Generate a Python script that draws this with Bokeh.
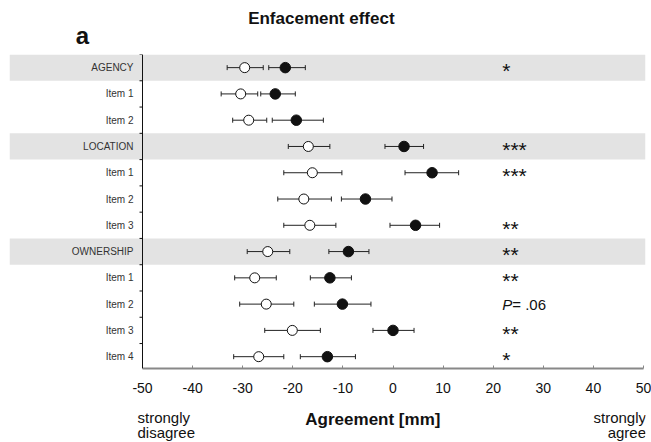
import math
from bokeh.plotting import figure
from bokeh.layouts import column
from bokeh.models import Range1d, Span, LinearAxis, FixedTicker
from bokeh.core.properties import value
from bokeh.embed import file_html
from bokeh.resources import INLINE

# ---------------- data ----------------
rows = ["AGENCY", "Item 1", "Item 2", "LOCATION", "Item 1", "Item 2", "Item 3",
        "OWNERSHIP", "Item 1", "Item 2", "Item 3", "Item 4"]
is_header = [1, 0, 0, 1, 0, 0, 0, 1, 0, 0, 0, 0]

# open circles
open_mean = [-29.6, -30.4, -28.8, -16.9, -16.1, -17.8, -16.6, -25.0, -27.6, -25.3, -20.1, -26.8]
open_lo = [-33.1, -34.3, -32.0, -20.9, -21.8, -23.0, -21.8, -29.1, -31.6, -30.6, -25.6, -31.8]
open_hi = [-25.9, -27.0, -25.2, -12.6, -10.2, -12.3, -11.4, -20.6, -23.3, -19.8, -14.5, -21.8]
# filled circles
filled_mean = [-21.5, -23.5, -19.3, 2.2, 7.8, -5.5, 4.5, -8.9, -12.6, -10.1, 0.0, -13.1]
filled_lo = [-24.8, -26.4, -24.1, -1.6, 2.4, -10.3, -0.6, -12.8, -16.5, -15.7, -4.0, -18.5]
filled_hi = [-17.5, -19.5, -13.9, 6.1, 13.1, -0.2, 9.3, -4.8, -8.3, -4.4, 4.2, -7.5]

sig = ["*", "", "", "***", "***", "", "**", "**", "**", "P = .06", "**", "*"]

x_ticks = [-50, -40, -30, -20, -10, 0, 10, 20, 30, 40, 50]
title_text = "Enfacement effect"
panel_text = "a"
x_label = "Agreement [mm]"
left_anchor = ["strongly", "disagree"]
right_anchor = ["strongly", "agree"]

# ---------------- layout ----------------
FONT = "Liberation Sans"
W = 651
SCALE = 5.01                      # px per unit
X_START = -50 - 133 / SCALE
X_END = X_START + 636 / SCALE
Y_TOP = -0.5
Y_BOT = 11.45
TOP_H = 54
MAIN_H = 350
BOT_H = 38

idx = list(range(len(rows)))
xr = Range1d(X_START, X_END)


def blank_fig(h, y_start, y_end):
    f = figure(width=W, height=h, x_range=xr, y_range=Range1d(y_start, y_end),
               output_backend="svg", toolbar_location=None,
               x_axis_location=None, y_axis_location=None,
               min_border_left=9, min_border_right=6, min_border_top=0,
               min_border_bottom=0)
    f.outline_line_color = None
    f.xgrid.visible = False
    f.ygrid.visible = False
    f.background_fill_color = "white"
    f.border_fill_color = "white"
    return f


# ---- top strip: panel letter and title (y in pixels from top) ----
top = blank_fig(TOP_H, TOP_H, 0)
top.text(x=[-14.3], y=[18], text=[title_text], text_align="center",
         text_baseline="middle", text_font=value(FONT), text_font_size="17px",
         text_font_style="bold", text_color="#111")
top.text(x=[-62.0], y=[35], text=[panel_text], text_align="center",
         text_baseline="middle", text_font=value(FONT), text_font_size="24px",
         text_font_style="bold", text_color="#111")

# ---- main plot ----
p = figure(width=W, height=MAIN_H, x_range=xr,
           y_range=Range1d(Y_BOT, Y_TOP), output_backend="svg",
           toolbar_location=None, x_axis_location=None, y_axis_location=None,
           min_border_left=9, min_border_right=6, min_border_top=0,
           min_border_bottom=36)
p.outline_line_color = None
p.background_fill_color = "white"
p.border_fill_color = "white"
p.xgrid.visible = False
p.ygrid.visible = False

# header bands
hy = [i for i, h in zip(idx, is_header) if h]
p.hbar(y=hy, left=X_START, right=X_END, height=1.0, fill_color="#e3e3e3",
       line_color=None)

# left axis line and ticks
p.add_layout(Span(location=-50, dimension="height", line_color="#111",
                  line_width=1))
bounds = [i - 0.5 for i in range(len(rows) + 1)]
p.segment(x0=[-50 - 3 / SCALE] * len(bounds), x1=[-50] * len(bounds),
          y0=bounds, y1=bounds, line_color="#111", line_width=1)

# error bars
for lo, hi in ((open_lo, open_hi), (filled_lo, filled_hi)):
    p.segment(x0=lo, x1=hi, y0=idx, y1=idx, line_color="#222", line_width=1)
    p.scatter(x=lo + hi, y=idx + idx, marker="dash", angle=math.pi / 2,
              size=5, line_color="#222", line_width=1)

# points
p.scatter(x=open_mean, y=idx, marker="circle", size=10, fill_color="white",
          line_color="#111", line_width=1)
p.scatter(x=filled_mean, y=idx, marker="circle", size=10.5, fill_color="#111",
          line_color="#111", line_width=1)

# row labels
p.text(x=[-50 - 9 / SCALE] * len(rows), y=idx, text=rows, text_align="right",
       text_baseline="middle", text_font=value(FONT), text_font_size="10px",
       text_color="#333")

# significance
star_rows = [i for i, s in enumerate(sig) if s and not s.startswith("P")]
p.text(x=[21.8] * len(star_rows), y=star_rows, text=[sig[i] for i in star_rows],
       text_align="left", text_baseline="middle", y_offset=3,
       text_font=value(FONT), text_font_size="21px", text_color="#111")
p_rows = [i for i, s in enumerate(sig) if s.startswith("P")]
p.text(x=[21.8] * len(p_rows), y=p_rows, text=["P"] * len(p_rows),
       text_align="left", text_baseline="middle", text_font=value(FONT),
       text_font_style="italic", text_font_size="15px", text_color="#111")
p.text(x=[21.8] * len(p_rows), y=p_rows, text=[sig[i][1:].strip() for i in p_rows],
       x_offset=10, text_align="left", text_baseline="middle",
       text_font=value(FONT), text_font_size="15px", text_color="#111")

# x axis
xa = LinearAxis(ticker=FixedTicker(ticks=x_ticks), bounds=(-50, 50))
xa.axis_line_color = "#888888"
xa.axis_line_width = 2
xa.major_tick_line_color = "#888888"
xa.major_tick_in = 3
xa.major_tick_out = 0
xa.minor_tick_line_color = None
xa.major_label_overrides = {t: str(t) for t in x_ticks}
xa.major_label_text_font = FONT
xa.major_label_text_font_size = "14px"
xa.major_label_text_color = "#111"
xa.major_label_standoff = 14
p.add_layout(xa, "below")

# ---- bottom strip: axis title and anchors (y in page pixels) ----
y0 = TOP_H + MAIN_H
bot = blank_fig(BOT_H, y0 + BOT_H, y0)
bot.text(x=[-17.5], y=[419], text=[x_label], text_align="left",
         text_baseline="middle", text_font=value(FONT), text_font_size="17px",
         text_font_style="bold", text_color="#111")
bot.text(x=[-51.0, -51.0], y=[417, 432], text=left_anchor, text_align="left",
         text_baseline="middle", text_font=value(FONT), text_font_size="15px",
         text_color="#111")
bot.text(x=[50.5, 50.5], y=[417, 432], text=right_anchor, text_align="right",
         text_baseline="middle", text_font=value(FONT), text_font_size="15px",
         text_color="#111")

layout = column(top, p, bot, spacing=0)
open("out.html", "w").write(file_html(layout, INLINE))
